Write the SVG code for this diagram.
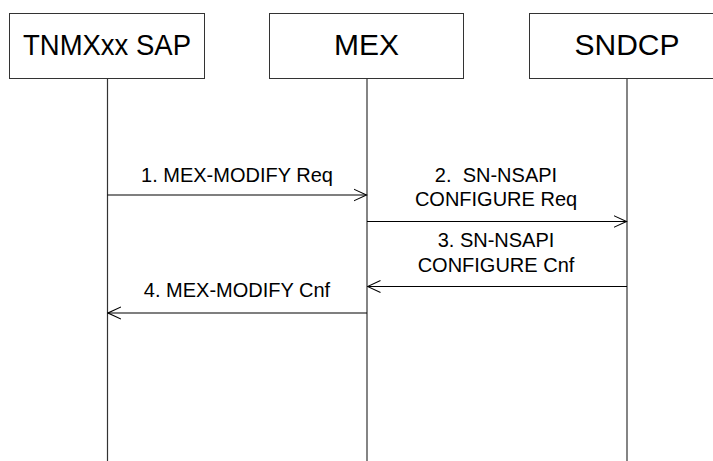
<svg xmlns="http://www.w3.org/2000/svg" width="713" height="461" viewBox="0 0 713 461">
<style>
.box{fill:#fff;stroke:#333;stroke-width:1}
.life{stroke:#333;stroke-width:1.2;fill:none}
.msg{stroke:#000;stroke-width:1.2;fill:none}
.ttl{font-family:"Liberation Sans",Arial,sans-serif;font-size:30px;fill:#000;text-anchor:middle}
.lbl{font-family:"Liberation Sans",Arial,sans-serif;font-size:20px;fill:#000;text-anchor:middle}
</style>
<defs>
<marker id="arr" viewBox="0 0 14 14" refX="13" refY="7" markerWidth="14" markerHeight="14" markerUnits="userSpaceOnUse" orient="auto">
<path d="M0,1 L13,7 L0,13" fill="none" stroke="#000" stroke-width="1.1"/>
</marker>
</defs>
<rect width="713" height="461" fill="#fff"/>
<g id="tnmx">
<rect class="box" x="9.5" y="13.5" width="195" height="65"/>
<text class="ttl" x="107" y="55" textLength="168" lengthAdjust="spacingAndGlyphs">TNMXxx SAP</text>
</g>
<g id="mex">
<rect class="box" x="269.5" y="13.5" width="194" height="65"/>
<text class="ttl" x="366.5" y="55">MEX</text>
</g>
<g id="sndcp">
<rect class="box" x="529.5" y="13.5" width="195" height="65"/>
<text class="ttl" x="627" y="55">SNDCP</text>
</g>
<g id="connectors">
<line class="life" x1="107.5" y1="78.5" x2="107.5" y2="461"/>
<line class="life" x1="367" y1="78.5" x2="367" y2="461"/>
<line class="life" x1="627" y1="78.5" x2="627" y2="461"/>
<line class="msg" x1="107.5" y1="195" x2="366.5" y2="195" marker-end="url(#arr)"/>
<line class="msg" x1="367" y1="221.5" x2="626.5" y2="221.5" marker-end="url(#arr)"/>
<line class="msg" x1="627" y1="286.5" x2="367.5" y2="286.5" marker-end="url(#arr)"/>
<line class="msg" x1="367" y1="313" x2="108" y2="313" marker-end="url(#arr)"/>
</g>
<g id="labels">
<text class="lbl" x="237" y="182">1. MEX-MODIFY Req</text>
<text class="lbl" x="496" y="182" xml:space="preserve">2.  SN-NSAPI</text>
<text class="lbl" x="496" y="206">CONFIGURE Req</text>
<text class="lbl" x="496" y="247">3. SN-NSAPI</text>
<text class="lbl" x="496" y="272">CONFIGURE Cnf</text>
<text class="lbl" x="237" y="297">4. MEX-MODIFY Cnf</text>
</g>
</svg>
